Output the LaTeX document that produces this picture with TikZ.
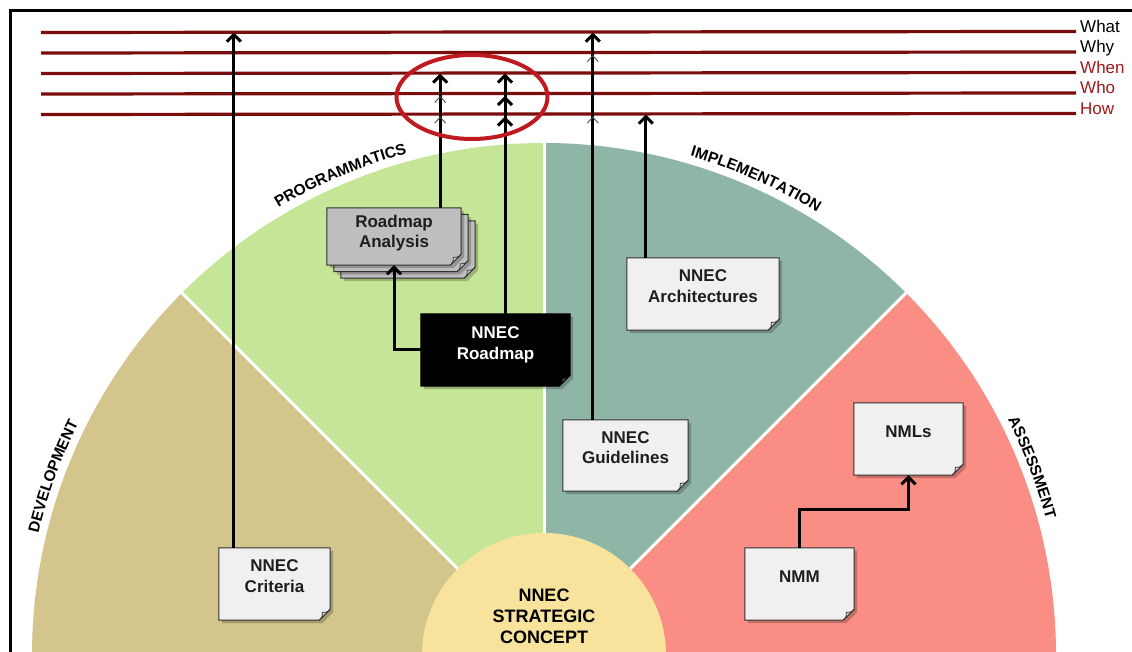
\documentclass[tikz,border=0pt]{standalone}
\usepackage{fontspec}
\setmainfont{Liberation Sans}
\usetikzlibrary{arrows.meta,decorations.markings,decorations.text,calc}

\pgfdeclarelayer{sectors}
\pgfdeclarelayer{cards}
\pgfsetlayers{sectors,cards,main}

\definecolor{devtan}{HTML}{D3C58C}
\definecolor{proggreen}{HTML}{C5E696}
\definecolor{implteal}{HTML}{8FB5A7}
\definecolor{asspink}{HTML}{FA8D84}
\definecolor{corefill}{HTML}{F7E39C}
\definecolor{cardwhite}{HTML}{F0F0F0}
\definecolor{cardgray}{HTML}{BEBEBE}
\definecolor{cardline}{HTML}{303030}
\definecolor{flapgray}{HTML}{D6D6D6}
\definecolor{flapdark}{HTML}{4A4A4A}
\definecolor{refred}{HTML}{7B0C0C}
\definecolor{lblred}{HTML}{A0181C}
\definecolor{ringred}{HTML}{C0191F}
\definecolor{cardink}{HTML}{1E1E1E}

% two-line card text, lifted a little above the card centre
\newcommand\cardtext[2][6pt]{\raisebox{#1}[\height][\depth]{\begin{tabular}{@{}c@{}}#2\end{tabular}}}
\newcommand\arcfont{\bfseries\fontsize{15.5}{18}\selectfont}

% corners of a card placed behind node #1, shifted by (#2,#3)
\newcommand\cardcorners[3]{%
  \path ([shift={(#2,#3)}]#1.north west) coordinate (cnw)
        ([shift={(#2,#3)}]#1.north east) coordinate (cne)
        ([shift={(#2,#3)}]#1.south east) coordinate (cse)
        ([shift={(#2,#3)}]#1.south west) coordinate (csw);}
\newcommand\cardshape[1]{%
  \path[#1] (cnw) -- (cne) -- ([yshift=11pt]cse) -- ([xshift=-11pt]cse) -- (csw) -- cycle;}
% card with folded corner: #1 node, #2 fill, #3 outline, #4 flap fill, #5/#6 shift
\newcommand\card[6]{%
  \begin{pgfonlayer}{cards}
    \cardcorners{#1}{#5+3pt}{#6-3pt}
    \cardshape{fill=black, opacity=.22}
    \cardcorners{#1}{#5}{#6}
    \cardshape{fill=#2, draw=#3, line width=1pt}
    \path[fill=#4, draw=#3, line width=.7pt]
      ([xshift=-11pt]cse) .. controls ([shift={(-8pt,3pt)}]cse) .. ([shift={(-8pt,8pt)}]cse)
      .. controls ([shift={(-3pt,8pt)}]cse) .. ([yshift=11pt]cse) -- cycle;
  \end{pgfonlayer}}

\tikzset{
  thinbarb/.tip={Straight Barb[length=6pt,width=11pt,line width=.9pt,color=black!70]},
  thickbarb/.tip={Straight Barb[length=7pt,width=14pt]},
  refline/.style={draw=refred, line width=3.2pt},
  reflabel/.style={anchor=base west, inner sep=0pt, font=\fontsize{17}{20}\selectfont},
  conn/.style={draw=black, line width=3pt, -thickbarb},
  thinmark/.style={postaction={decorate, decoration={markings,
      mark=at position #1 with {\arrow{thinbarb}}}}},
  thickmark/.style={postaction={decorate, decoration={markings,
      mark=at position #1 with {\arrow{thickbarb}}}}},
  cardnode/.style={rectangle, inner sep=0pt, text=cardink,
      font=\bfseries\fontsize{17}{20.5}\selectfont},
  arclabel/.style={decorate, decoration={text along path, text align=center,
      text={|\arcfont|#1}}},
}

\begin{document}
\begin{tikzpicture}[x=1pt,y=1pt]
\useasboundingbox (0,0) rectangle (1132,652);
\coordinate (C) at (544,-3);

% ---------- quarter sectors and strategic core ----------
\begin{pgfonlayer}{sectors}
  \fill[white] (0,0) rectangle (1132,652);
  \begin{scope}
    \clip (0,0) rectangle (1132,652);
    \fill[devtan]    (C) -- ++(180:512pt) arc[start angle=180,end angle=135,radius=512pt] -- cycle;
    \fill[proggreen] (C) -- ++(135:512pt) arc[start angle=135,end angle=90,radius=512pt] -- cycle;
    \fill[implteal]  (C) -- ++(90:512pt)  arc[start angle=90,end angle=45,radius=512pt] -- cycle;
    \fill[asspink]   (C) -- ++(45:512pt)  arc[start angle=45,end angle=0,radius=512pt] -- cycle;
    \foreach \a in {135,90,45}
      \draw[white, line width=3pt] (C) -- ++(\a:514pt);
    \fill[corefill] (C) circle[radius=122pt];
  \end{scope}
\end{pgfonlayer}

% frame
\draw[line width=2.5pt] (10.5,0) -- (10.5,641.5) -- (1132,641.5);

% ---------- sector titles along the rim ----------
\path[arclabel=DEVELOPMENT]    ($(C)+(178:520pt)$) arc[start angle=178,end angle=142,radius=520pt];
\path[arclabel=PROGRAMMATICS]  ($(C)+(133:520pt)$) arc[start angle=133,end angle=93,radius=520pt];
\path[arclabel=IMPLEMENTATION] ($(C)+(86:520pt)$)  arc[start angle=86,end angle=46,radius=520pt];
\path[arclabel=ASSESSMENT]     ($(C)+(41:520pt)$)  arc[start angle=41,end angle=1,radius=520pt];

% ---------- question lines ----------
\node[reflabel]             (what) at (1080,619.5) {What};
\node[reflabel]             (why)  at (1080,599)   {Why};
\node[reflabel,text=lblred] (when) at (1080,578.5) {When};
\node[reflabel,text=lblred] (who)  at (1080,558)   {Who};
\node[reflabel,text=lblred] (how)  at (1080,537.5) {How};
\coordinate (lwhat) at (41,619.5);
\coordinate (lwhy)  at (41,599);
\coordinate (lwhen) at (41,578.5);
\coordinate (lwho)  at (41,558);
\coordinate (lhow)  at (41,537.5);
\foreach \l/\n in {lwhat/what,lwhy/why,lwhen/when,lwho/who,lhow/how}
  \draw[refline] (\l) -- ([xshift=-4pt,yshift=1pt]\n.base west);

% ---------- cards ----------
\node[cardnode, minimum width=111pt, minimum height=72pt] (crit)  at (274.5,68)  {\cardtext{NNEC\\Criteria}};
\node[cardnode, minimum width=134pt, minimum height=57pt] (ana)   at (394,415.5) {\cardtext[3pt]{Roadmap\\Analysis}};
\node[cardnode, minimum width=149pt, minimum height=72pt, text=white] (road) at (495.5,302) {\cardtext[5pt]{NNEC\\Roadmap}};
\node[cardnode, minimum width=152pt, minimum height=72pt] (arch)  at (703,358)    {\cardtext{NNEC\\Architectures}};
\node[cardnode, minimum width=125pt, minimum height=71pt] (guide) at (625.5,196.5){\cardtext{NNEC\\Guidelines}};
\node[cardnode, minimum width=109pt, minimum height=72pt] (nmls)  at (908.5,213)  {\cardtext{NMLs}};
\node[cardnode, minimum width=109pt, minimum height=72pt] (nmm)   at (799.5,68)   {\cardtext{NMM}};

\card{crit}{cardwhite}{cardline}{flapgray}{0pt}{0pt}
\card{ana}{cardgray}{cardline}{flapgray}{14pt}{-13pt}
\card{ana}{cardgray}{cardline}{flapgray}{7pt}{-6.5pt}
\card{ana}{cardgray}{cardline}{flapgray}{0pt}{0pt}
\card{road}{black}{black}{flapdark}{0pt}{0pt}
\card{arch}{cardwhite}{cardline}{flapgray}{0pt}{0pt}
\card{guide}{cardwhite}{cardline}{flapgray}{0pt}{0pt}
\card{nmls}{cardwhite}{cardline}{flapgray}{0pt}{0pt}
\card{nmm}{cardwhite}{cardline}{flapgray}{0pt}{0pt}

% ---------- connectors ----------
\path ([xshift=15pt]crit.north west)  coordinate (critout)
      ([xshift=-21pt]ana.north east)  coordinate (anaout)
      ([xshift=9.5pt]road.north)      coordinate (roadout)
      ([xshift=30pt]guide.north west) coordinate (guideout)
      ([xshift=19pt]arch.north west)  coordinate (archout);

\draw[conn] (critout) -- (critout |- lwhat);
\draw[conn, thinmark=-22.5pt, thinmark=-43pt] (anaout) -- (anaout |- lwhen);
\draw[conn, thickmark=-22.5pt, thickmark=-43pt] (roadout) -- (roadout |- lwhen);
\draw[conn, thinmark=-22.5pt, thinmark=-84pt] (guideout) -- (guideout |- lwhat);
\draw[conn] (archout) -- (archout |- lhow);
\draw[conn] (road.west) -| (ana.south);
\draw[conn] (nmm.north) |- ([yshift=-34pt]nmls.south) -- (nmls.south);

% highlight ring
\draw[ringred, line width=4pt] (472,555) ellipse[x radius=75.5pt, y radius=42pt];

% ---------- strategic core ----------
\node[font=\bfseries\fontsize{18}{21}\selectfont, align=center, inner sep=0pt] (core) at (544,36)
  {NNEC\\STRATEGIC\\CONCEPT};
\end{tikzpicture}
\end{document}
